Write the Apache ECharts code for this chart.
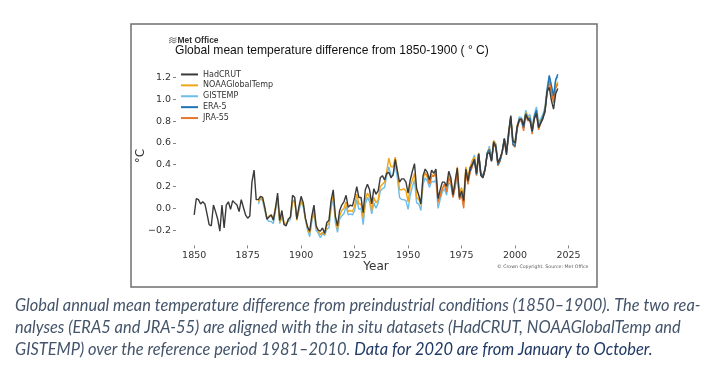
<!DOCTYPE html>
<html><head><meta charset="utf-8">
<script src="https://cdn.jsdelivr.net/npm/echarts@6/dist/echarts.min.js"></script>
<style>html,body{margin:0;padding:0;background:#fff;}#c{width:722px;height:370px;}</style>
</head><body><div id="c"></div>
<script>
// ---- data ----
const xTicks = [1850, 1875, 1900, 1925, 1950, 1975, 2000, 2025];
const yTicks = [-0.2, 0.0, 0.2, 0.4, 0.6, 0.8, 1.0, 1.2];
const seriesNames = ['HadCRUT', 'NOAAGlobalTemp', 'GISTEMP', 'ERA-5', 'JRA-55'];

const hadcrutStart = 1850;
const hadcrut = [
-0.06,0.09,0.08,0.04,0.06,0.04,-0.05,-0.15,-0.16,0.03,
-0.03,-0.10,-0.21,0.03,-0.18,0.03,0.06,-0.01,0.07,0.05,
0.03,-0.03,0.08,0.01,-0.06,-0.09,-0.07,0.24,0.35,0.08,
0.08,0.11,0.10,0.01,-0.10,-0.08,-0.06,-0.11,0.00,0.14,
-0.11,-0.02,-0.15,-0.16,-0.10,-0.08,0.12,0.10,-0.10,0.02,
0.11,0.05,-0.09,-0.17,-0.21,-0.07,0.03,-0.16,-0.20,-0.21,
-0.18,-0.23,-0.13,-0.11,0.07,0.17,-0.07,-0.16,-0.02,0.03,
0.06,0.12,0.01,0.03,0.02,0.10,0.20,0.10,0.10,-0.04,
0.17,0.22,0.17,0.04,0.18,0.13,0.16,0.28,0.30,0.26,
0.32,0.33,0.28,0.31,0.45,0.34,0.24,0.27,0.27,0.24,
0.14,0.26,0.34,0.41,0.18,0.12,0.04,0.30,0.36,0.33,
0.26,0.35,0.32,0.36,0.09,0.17,0.24,0.24,0.20,0.34,
0.28,0.12,0.25,0.37,0.10,0.16,0.07,0.36,0.25,0.37,
0.40,0.45,0.32,0.50,0.30,0.28,0.36,0.50,0.51,0.43,
0.61,0.56,0.42,0.46,0.52,0.64,0.49,0.70,0.85,0.62,
0.60,0.75,0.81,0.82,0.76,0.86,0.82,0.80,0.71,0.82,
0.87,0.74,0.78,0.82,0.89,1.07,1.11,0.99,0.91,1.05,
1.10];

const noaaStart = 1880;
const noaa = [
0.06,0.10,0.08,0.00,-0.09,-0.07,-0.06,-0.09,0.01,0.10,
-0.13,-0.05,-0.13,-0.15,-0.10,-0.08,0.06,0.06,-0.11,0.00,
0.08,0.03,-0.10,-0.18,-0.23,-0.10,0.00,-0.17,-0.21,-0.24,
-0.22,-0.24,-0.16,-0.14,0.04,0.12,-0.09,-0.19,-0.07,-0.02,
0.00,0.06,-0.03,-0.02,-0.03,0.02,0.13,0.04,0.04,-0.09,
0.08,0.14,0.10,-0.02,0.10,0.05,0.08,0.20,0.22,0.24,
0.34,0.46,0.38,0.38,0.47,0.35,0.17,0.17,0.18,0.16,
0.06,0.20,0.26,0.32,0.10,0.08,0.03,0.27,0.33,0.28,
0.23,0.31,0.29,0.33,0.05,0.13,0.18,0.22,0.17,0.30,
0.26,0.14,0.23,0.38,0.14,0.19,0.10,0.38,0.29,0.38,
0.44,0.47,0.34,0.51,0.33,0.30,0.36,0.51,0.55,0.45,
0.62,0.59,0.41,0.44,0.52,0.63,0.52,0.70,0.84,0.61,
0.61,0.76,0.82,0.82,0.76,0.88,0.84,0.83,0.73,0.84,
0.90,0.76,0.80,0.84,0.91,1.08,1.15,1.06,0.99,1.12,
1.16];

const gistempStart = 1880;
const gistemp = [
0.04,0.09,0.07,-0.02,-0.10,-0.12,-0.12,-0.14,-0.02,0.10,
-0.14,-0.08,-0.14,-0.14,-0.12,-0.10,0.06,0.08,-0.10,-0.02,
0.06,0.01,-0.10,-0.20,-0.26,-0.12,-0.04,-0.20,-0.23,-0.27,
-0.23,-0.25,-0.19,-0.18,0.00,0.10,-0.13,-0.22,-0.10,-0.07,
-0.05,0.02,-0.06,-0.05,-0.06,-0.02,0.08,-0.01,0.00,-0.15,
0.04,0.10,0.06,-0.05,0.05,0.00,0.05,0.16,0.18,0.19,
0.30,0.38,0.30,0.30,0.40,0.28,0.10,0.08,0.08,0.07,
-0.01,0.12,0.20,0.26,0.05,0.04,-0.02,0.22,0.28,0.25,
0.19,0.25,0.24,0.26,0.00,0.08,0.15,0.18,0.12,0.24,
0.21,0.10,0.19,0.33,0.10,0.15,0.05,0.34,0.25,0.33,
0.43,0.49,0.32,0.50,0.32,0.29,0.36,0.50,0.57,0.44,
0.62,0.59,0.42,0.44,0.52,0.64,0.54,0.68,0.83,0.62,
0.60,0.74,0.84,0.83,0.77,0.90,0.84,0.86,0.74,0.86,
0.93,0.79,0.82,0.86,0.93,1.11,1.21,1.11,1.02,1.17,
1.21];

const era5Start = 1979;
const era5 = [
0.34,0.40,0.44,0.31,0.50,0.32,0.30,0.36,0.51,0.54,
0.44,0.59,0.58,0.40,0.44,0.52,0.64,0.52,0.67,0.84,
0.59,0.57,0.74,0.82,0.81,0.74,0.87,0.82,0.83,0.70,
0.84,0.90,0.75,0.79,0.84,0.90,1.08,1.22,1.13,1.03,
1.18,1.23];

const jra55Start = 1958;
const jra55 = [
0.32,0.30,0.22,0.29,0.30,0.32,0.06,0.11,0.18,0.22,
0.15,0.28,0.24,0.10,0.20,0.34,0.08,0.12,0.00,0.33,
0.22,0.33,0.38,0.45,0.30,0.49,0.31,0.28,0.35,0.50,
0.53,0.44,0.58,0.56,0.39,0.43,0.51,0.62,0.50,0.66,
0.83,0.58,0.56,0.73,0.80,0.80,0.71,0.85,0.80,0.82,
0.68,0.83,0.88,0.72,0.78,0.83,0.88,1.06,1.17,1.07,
0.97,1.10,1.14];

const captionLine1 = 'Global annual mean temperature difference from preindustrial conditions (1850–1900). The two rea-';
const captionLine2 = 'nalyses (ERA5 and JRA-55) are aligned with the in situ datasets (HadCRUT, NOAAGlobalTemp and';
const captionLine3a = 'GISTEMP) over the reference period 1981–2010.';
const captionLine3b = 'Data for 2020 are from January to October.';

// ---- build ----
function pairs(start, vals) { return vals.map((v, i) => [start + i, v]); }
const colors = {
  'HadCRUT': '#3a3a3a',
  'NOAAGlobalTemp': '#f2a516',
  'GISTEMP': '#6dbdea',
  'ERA-5': '#1f74b6',
  'JRA-55': '#e6762a'
};
function lineSeries(name, start, vals) {
  return {
    name: name, type: 'line', data: pairs(start, vals), showSymbol: false,
    symbol: 'none', lineStyle: { width: 1.4, color: colors[name] }, itemStyle: { color: colors[name] },
    animation: false, silent: true
  };
}
const capFont = 'Lato, "Open Sans", sans-serif';
const capSize = 16.4;
const chart = echarts.init(document.getElementById('c'), null, { renderer: 'canvas' });
chart.setOption({
  backgroundColor: '#ffffff',
  animation: false,
  grid: { left: 176, right: 146, top: 66.6, bottom: 124.6, containLabel: false },
  legend: {
    data: seriesNames, orient: 'vertical', left: 181, top: 69, padding: 0,
    itemWidth: 17, itemHeight: 2, itemGap: 0, icon: 'rect',
    textStyle: { fontSize: 8, lineHeight: 10.9, color: '#333', fontFamily: 'DejaVu Sans' },
    itemStyle: { borderWidth: 0 }
  },
  xAxis: {
    type: 'value', min: 1841.5, max: 2028.5,
    name: 'Year', nameLocation: 'middle', nameGap: 15,
    nameTextStyle: { fontSize: 12, color: '#333', fontFamily: 'DejaVu Sans' },
    axisLine: { show: false, onZero: false },
    axisTick: { show: true, length: 3, customValues: xTicks, lineStyle: { color: '#666', width: 0.8 } },
    axisLabel: { customValues: xTicks, fontSize: 9.5, color: '#333', margin: 5, fontFamily: 'DejaVu Sans', formatter: v => String(v) },
    splitLine: { show: false }
  },
  yAxis: {
    type: 'value', min: -0.34, max: 1.30,
    name: '°C', nameLocation: 'middle', nameGap: 29, nameRotate: 90, nameMoveOverlap: false,
    nameTextStyle: { fontSize: 12, color: '#333', fontFamily: 'DejaVu Sans' },
    axisLine: { show: false, onZero: false },
    axisTick: { show: true, length: 3, customValues: yTicks, lineStyle: { color: '#666', width: 0.8 } },
    axisLabel: { customValues: yTicks, fontSize: 9.5, color: '#333', margin: 5, fontFamily: 'DejaVu Sans',
      formatter: v => (v < 0 ? '\u2212' : '') + Math.abs(v).toFixed(1) },
    splitLine: { show: false }
  },
  series: [
    lineSeries('GISTEMP', gistempStart, gistemp),
    lineSeries('NOAAGlobalTemp', noaaStart, noaa),
    lineSeries('JRA-55', jra55Start, jra55),
    lineSeries('ERA-5', era5Start, era5),
    lineSeries('HadCRUT', hadcrutStart, hadcrut)
  ],
  graphic: [
    { type: 'rect', shape: { x: 131, y: 24, width: 466, height: 263 }, style: { fill: 'none', stroke: '#6f6f6f', lineWidth: 1.5 }, z: 100 },
    { type: 'text', x: 175, y: 51, style: { text: 'Global mean temperature difference from 1850-1900 ( ° C)', fontSize: 12.1, fontFamily: '"Liberation Sans", Arial, sans-serif', fill: '#111', verticalAlign: 'middle' } },
    { type: 'group', x: 169, y: 37.5, children: [
      { type: 'polyline', shape: { points: [[0, 1.5], [2.5, 0], [5, 1.5], [7.5, 0]] }, style: { stroke: '#666', lineWidth: 0.9, fill: 'none' } },
      { type: 'polyline', shape: { points: [[0, 3.5], [2.5, 2], [5, 3.5], [7.5, 2]] }, style: { stroke: '#666', lineWidth: 0.9, fill: 'none' } },
      { type: 'polyline', shape: { points: [[0, 5.5], [2.5, 4], [5, 5.5], [7.5, 4]] }, style: { stroke: '#666', lineWidth: 0.9, fill: 'none' } }
    ] },
    { type: 'text', x: 177.5, y: 40.5, style: { text: 'Met Office', fontSize: 8.5, fontWeight: 'bold', fontFamily: '"Liberation Sans", Arial, sans-serif', fill: '#333', verticalAlign: 'middle' } },
    { type: 'text', x: 497, y: 267, style: { text: '© Crown Copyright. Source: Met Office', fontSize: 4.7, fontFamily: 'DejaVu Sans', fill: '#555', verticalAlign: 'middle' } },
    { type: 'text', x: 15, y: 306, style: { text: captionLine1, fontSize: capSize, fontStyle: 'italic', fontFamily: capFont, fill: '#44546a', verticalAlign: 'middle' } },
    { type: 'text', x: 15, y: 328, style: { text: captionLine2, fontSize: capSize, fontStyle: 'italic', fontFamily: capFont, fill: '#44546a', verticalAlign: 'middle' } },
    { type: 'text', x: 15, y: 350, style: {
      text: '{a|' + captionLine3a + '} {b|' + captionLine3b + '}',
      fontSize: capSize, fontStyle: 'italic', fontFamily: capFont, verticalAlign: 'middle',
      rich: {
        a: { fontSize: capSize, fontStyle: 'italic', fontFamily: capFont, fill: '#44546a' },
        b: { fontSize: capSize, fontStyle: 'italic', fontFamily: capFont, fill: '#1f3864' }
      } } }
  ]
});
</script>
</body></html>
